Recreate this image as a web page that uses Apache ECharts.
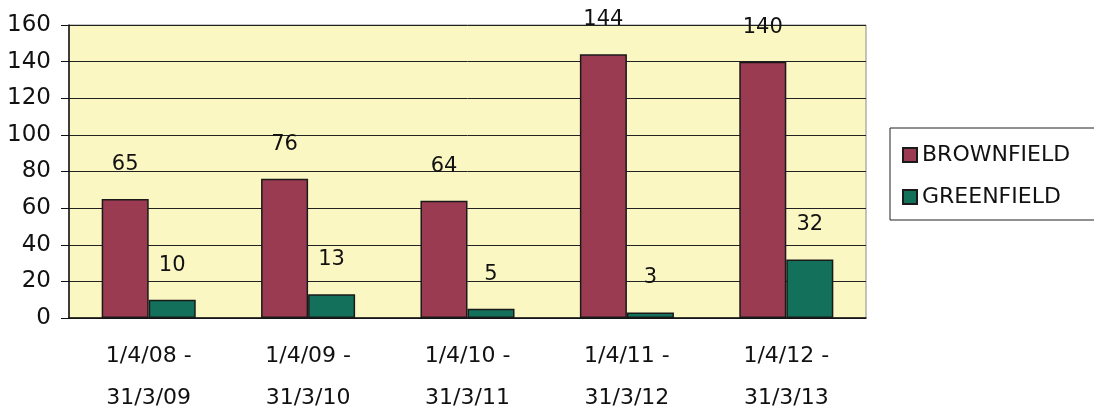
<!DOCTYPE html>
<html>
<head>
<meta charset="utf-8">
<script src="https://cdn.jsdelivr.net/npm/echarts@6/dist/echarts.min.js"></script>
<style>
html,body{margin:0;padding:0;background:#fff;}
#chart{width:1094px;height:416px;}
</style>
</head>
<body>
<div id="chart"></div>
<script>
var categories = ['1/4/08 -\n31/3/09', '1/4/09 -\n31/3/10', '1/4/10 -\n31/3/11', '1/4/11 -\n31/3/12', '1/4/12 -\n31/3/13'];
var brownfield = [65, 76, 64, 144, 140];
var greenfield = [10, 13, 5, 3, 32];
var yTicks = [0, 20, 40, 60, 80, 100, 120, 140, 160];

var font = '"Comic Sans MS", "DejaVu Sans", sans-serif';
var chart = echarts.init(document.getElementById('chart'));

var option = {
  animation: false,
  textStyle: { fontFamily: font, color: '#111' },
  grid: {
    left: 69, right: 228, top: 25, bottom: 98,
    outerBoundsMode: 'none',
    containLabel: false,
    show: true,
    backgroundColor: '#fbf7c2',
    borderColor: '#8a8a8a',
    borderWidth: 1
  },
  legend: {
    orient: 'vertical',
    left: 890, top: 128,
    width: 210,
    padding: [16, 30, 12, 12],
    itemGap: 20,
    itemWidth: 14, itemHeight: 14,
    icon: 'rect',
    borderColor: '#222', borderWidth: 1,
    textStyle: { fontFamily: font, fontSize: 22, color: '#111' },
    data: ['BROWNFIELD', 'GREENFIELD']
  },
  xAxis: {
    type: 'category',
    data: categories,
    axisLine: { lineStyle: { color: '#111', width: 1.5 } },
    axisTick: { length: 8, lineStyle: { color: '#111' } },
    axisLabel: { fontFamily: font, fontSize: 22, color: '#111', lineHeight: 42, margin: 17 }
  },
  yAxis: {
    type: 'value',
    min: yTicks[0], max: yTicks[yTicks.length - 1], interval: 20,
    axisLine: { show: true, lineStyle: { color: '#111', width: 1.5 } },
    axisTick: { show: true, length: 8, lineStyle: { color: '#111' } },
    axisLabel: { fontFamily: font, fontSize: 23, color: '#111', margin: 18 },
    splitLine: { lineStyle: { color: '#222', width: 1 } }
  },
  series: [{
    name: 'BROWNFIELD',
    type: 'bar',
    data: brownfield,
    barGap: '0%',
    barCategoryGap: '41%',
    itemStyle: { color: '#9a3b52', borderColor: '#1a1a1a', borderWidth: 1.5 },
    label: { show: true, position: 'top', distance: 24, fontFamily: font, fontSize: 21, color: '#111' }
  }, {
    name: 'GREENFIELD',
    type: 'bar',
    data: greenfield,
    itemStyle: { color: '#13705a', borderColor: '#1a1a1a', borderWidth: 1.5 },
    label: { show: true, position: 'top', distance: 24, fontFamily: font, fontSize: 21, color: '#111' }
  }]
};
chart.setOption(option);
</script>
</body>
</html>
